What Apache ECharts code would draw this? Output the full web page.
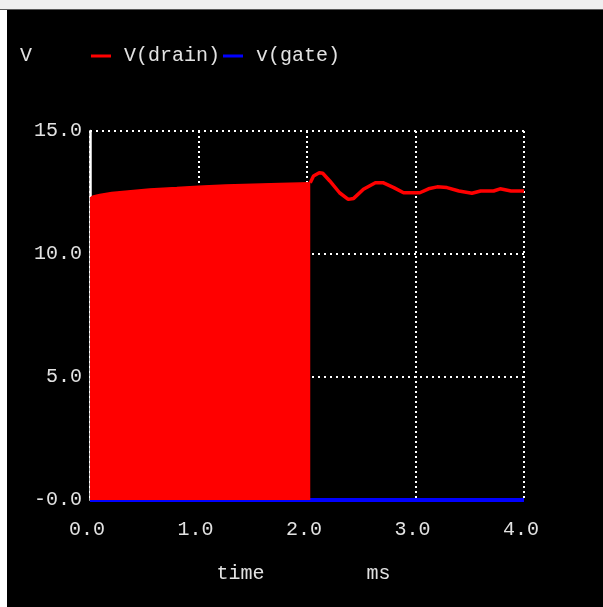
<!DOCTYPE html>
<html>
<head>
<meta charset="utf-8">
<script src="https://cdn.jsdelivr.net/npm/echarts@6/dist/echarts.min.js"></script>
<style>
  html, body { margin: 0; padding: 0; background: #ffffff; width: 603px; height: 607px; overflow: hidden; }
  #band { position: absolute; left: 0; top: 0; width: 603px; height: 9px; background: #efefef; border-bottom: 1px solid #5a5a5a; }
  #chart { position: absolute; left: 7px; top: 10px; width: 596px; height: 597px; background: #000000; }
</style>
</head>
<body>
<div id="band"></div>
<div id="chart"></div>
<script>
// ---- data ----
const seriesNames = ['V(drain)', 'v(gate)'];
const yAxisUnit = 'V';
const xAxisTitle = 'time';
const xAxisUnit = 'ms';
const xTickLabels = ['0.0', '1.0', '2.0', '3.0', '4.0'];
const yTickLabels = ['-0.0', '5.0', '10.0', '15.0'];

// V(drain) during switching (0 - 2 ms): upper envelope of the dense switching band
const drainEnvTimes  = [0.0, 0.03, 0.09, 0.2, 0.35, 0.55, 0.8, 1.0, 1.25, 1.5, 1.75, 2.03];
const drainEnvValues = [12.27, 12.36, 12.42, 12.5, 12.56, 12.64, 12.7, 12.75, 12.8, 12.84, 12.87, 12.9];

// V(drain) after switching stops (2 - 4 ms)
const drainTailTimes  = [2.03, 2.06, 2.113, 2.145, 2.21, 2.30, 2.38, 2.43, 2.52, 2.63, 2.70, 2.80, 2.89, 3.04, 3.12, 3.20, 3.29, 3.40, 3.52, 3.60, 3.72, 3.78, 3.88, 4.0];
const drainTailValues = [12.9, 13.17, 13.3, 13.28, 12.97, 12.49, 12.22, 12.26, 12.63, 12.9, 12.9, 12.7, 12.49, 12.49, 12.65, 12.73, 12.7, 12.56, 12.47, 12.56, 12.56, 12.65, 12.56, 12.56];

// v(gate)
const gateTimes  = [0.0, 4.0];
const gateValues = [0.0, 0.0];

const zip = (a, b) => a.map((t, i) => [t, b[i]]);

const FONT = 'Liberation Mono';
const TXT = '#e2e2e2';

const chart = echarts.init(document.getElementById('chart'), null, { renderer: 'canvas' });
chart.setOption({
  backgroundColor: '#000000',
  animation: false,
  title: {
    text: yAxisUnit,
    left: 8, top: 31,
    textStyle: { color: TXT, fontFamily: FONT, fontSize: 20, fontWeight: 'normal' }
  },
  legend: {
    data: seriesNames,
    left: 79, top: 31,
    icon: 'rect',
    itemWidth: 20, itemHeight: 3,
    itemGap: 3,
    textStyle: { color: TXT, fontFamily: FONT, fontSize: 20, padding: [0, 0, 0, 8] }
  },
  grid: { left: 83, top: 121, right: 79, bottom: 107, containLabel: false },
  xAxis: {
    type: 'value',
    min: 0, max: 4, interval: 1,
    name: '{a|' + xAxisTitle + '}{gap|}{a|' + xAxisUnit + '}',
    nameLocation: 'middle',
    nameGap: 64,
    nameTextStyle: {
      color: TXT, fontFamily: FONT, fontSize: 20, padding: [0, 7, 0, 0],
      rich: {
        a: { color: TXT, fontFamily: FONT, fontSize: 20 },
        gap: { width: 102 }
      }
    },
    axisLine: { show: false },
    axisTick: { show: false },
    axisLabel: {
      color: TXT, fontFamily: FONT, fontSize: 20, margin: 20, padding: [0, 6, 0, 0],
      formatter: (v) => xTickLabels[Math.round(v)]
    },
    splitLine: { show: true, lineStyle: { color: '#ffffff', width: 2, type: [2, 3] } }
  },
  yAxis: {
    type: 'value',
    min: 0, max: 15, interval: 5,
    axisLine: { show: true, lineStyle: { color: '#ffffff', width: 2.5 } },
    axisTick: { show: false },
    axisLabel: {
      color: TXT, fontFamily: FONT, fontSize: 20, margin: 8,
      formatter: (v) => yTickLabels[Math.round(v / 5)]
    },
    splitLine: { show: true, lineStyle: { color: '#ffffff', width: 2, type: [2, 4] } }
  },
  series: [
    {
      name: seriesNames[1], type: 'line', data: zip(gateTimes, gateValues),
      showSymbol: false, z: 2,
      itemStyle: { color: '#0000ff' },
      lineStyle: { color: '#0000ff', width: 4 }
    },
    {
      name: seriesNames[0], type: 'line', data: zip(drainEnvTimes, drainEnvValues),
      showSymbol: false, z: 3,
      itemStyle: { color: '#ff0000' },
      lineStyle: { color: '#ff0000', width: 1.5 },
      areaStyle: { color: '#ff0000', opacity: 1, origin: 0 }
    },
    {
      name: seriesNames[0], type: 'line', data: zip(drainTailTimes, drainTailValues),
      showSymbol: false, z: 3,
      itemStyle: { color: '#ff0000' },
      lineStyle: { color: '#ff0000', width: 3.5 }
    }
  ]
});
</script>
</body>
</html>
